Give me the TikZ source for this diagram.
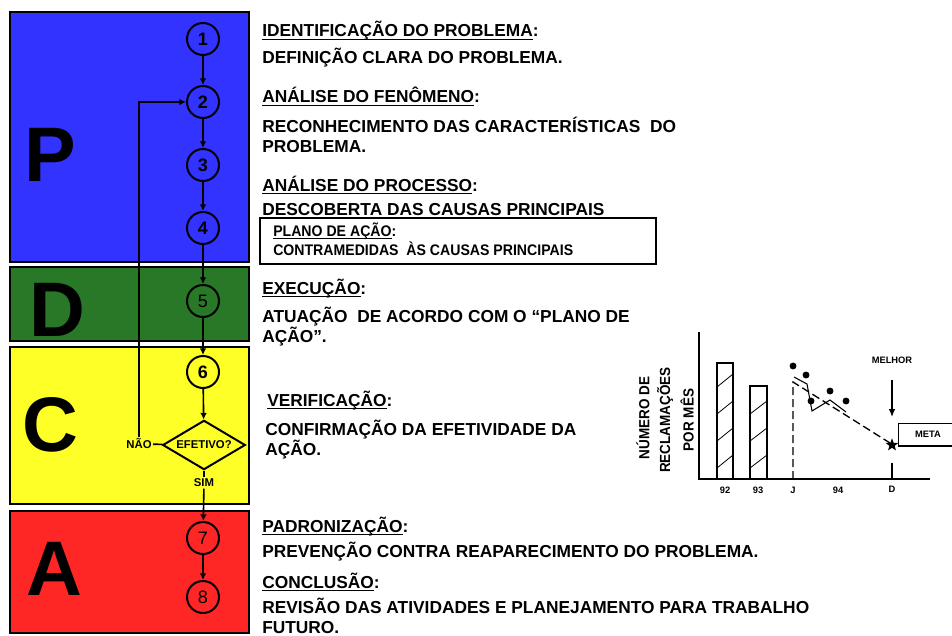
\documentclass[tikz,border=0pt]{standalone}
\usepackage{fontspec}
\setmainfont{Liberation Sans}
\newfontfamily\estreita[FakeStretch=0.92]{Liberation Sans}
\usetikzlibrary{arrows.meta,shapes.geometric}
\definecolor{azulP}{RGB}{51,51,255}
\definecolor{verdeD}{RGB}{40,120,40}
\definecolor{amareloC}{RGB}{255,255,40}
\definecolor{vermelhoA}{RGB}{255,38,38}
\newcommand\grifo[1]{\setbox0\hbox{#1}\rlap{\rule[-2.2pt]{\wd0}{0.9pt}}\box0}

\begin{document}
\begin{tikzpicture}[x=0.75pt,y=-0.75pt,
    fase/.style={draw,line width=1.5pt},
    letra/.style={font=\bfseries\fontsize{58}{58}\selectfont},
    etapa/.style={circle,draw,line width=1.5pt,minimum size=24pt,inner sep=0pt,font=\bfseries\fontsize{13.5}{14}\selectfont},
    etapafina/.style={etapa,font=\fontsize{13.5}{14}\selectfont},
    fluxo/.style={-{Latex[length=5pt,width=5pt]},line width=1.2pt},
    rotulo/.style={font=\bfseries\fontsize{8.5}{9}\selectfont,inner sep=1pt},
    texto/.style={anchor=base west,inner sep=0pt,align=left,font=\bfseries\fontsize{13}{15}\selectfont},
    textobox/.style={anchor=base west,inner sep=0pt,font=\estreita\bfseries\fontsize{11.5}{12}\selectfont},
    eixo/.style={font=\estreita\bfseries\fontsize{11}{12}\selectfont,rotate=90,inner sep=0pt},
    marca/.style={font=\bfseries\fontsize{7}{8}\selectfont,inner sep=0pt}]
\useasboundingbox (0,0) rectangle (952,635);

\draw[fase,fill=azulP] (10,12) rectangle (249,262);
\draw[fase,fill=verdeD] (10,267) rectangle (249,341);
\draw[fase,fill=amareloC] (10,347) rectangle (249,504);
\draw[fase,fill=vermelhoA] (10,511) rectangle (249,633);

\node[letra] (P) at (50,155) {P};
\node[letra] (D) at (57,310) {D};
\node[letra] (C) at (50,425) {C};
\node[letra] (A) at (54,569) {A};

\node[etapa] (c1) at (203,39) {1};
\node[etapa] (c2) at (203,102) {2};
\node[etapa] (c3) at (203,165) {3};
\node[etapa] (c4) at (203,228) {4};
\node[etapafina] (c5) at (203,301) {5};
\node[etapa] (c6) at (203,372) {6};
\node[diamond,draw,line width=1.5pt,fill=amareloC,aspect=1.7,inner sep=1pt,minimum width=62pt,minimum height=37pt,
    font=\bfseries\fontsize{8.5}{9}\selectfont] (ok) at (204,445) {EFETIVO?};
\node[rotulo,fill=amareloC] (nao) at (139,444) {NÃO};
\node[rotulo,fill=amareloC] (sim) at (204,483) {SIM};
\node[etapafina] (c7) at (203,538) {7};
\node[etapafina] (c8) at (203,597) {8};

\draw[fluxo] (c1) -- (c2);
\draw[fluxo] (c2) -- (c3);
\draw[fluxo] (c3) -- (c4);
\draw[fluxo] (c4) -- (c5);
\draw[fluxo] (c5) -- (c6);
\draw[fluxo] (c6) -- (ok);
\draw[line width=1.2pt] (ok) -- (sim);
\draw[fluxo] (sim) -- (c7);
\draw[fluxo] (c7) -- (c8);
\draw[line width=1.2pt] (ok) -- (nao);
\draw[fluxo] (nao) |- (c2);

\node[texto] (t1) at (262,37) {\grifo{IDENTIFICAÇÃO DO PROBLEMA}:};
\node[texto] (t2) at (262,64) {DEFINIÇÃO CLARA DO PROBLEMA.};
\node[texto] (t3) at (262,103) {\grifo{ANÁLISE DO FENÔMENO}:};
\node[texto] (t4) at (262,152) {RECONHECIMENTO DAS CARACTERÍSTICAS~ DO\\PROBLEMA.};
\node[texto] (t5) at (262,191) {\grifo{ANÁLISE DO PROCESSO}:};
\node[texto] (t6) at (262,215) {DESCOBERTA DAS CAUSAS PRINCIPAIS};
\draw[line width=1pt] (260,218) rectangle (656,264);
\node[textobox] (t7) at (273,236) {\grifo{PLANO DE AÇÃO}:};
\node[textobox] (t8) at (273,255) {CONTRAMEDIDAS~ ÀS CAUSAS PRINCIPAIS};
\node[texto] (t9) at (262,294) {\grifo{EXECUÇÃO}:};
\node[texto] (t10) at (262,342) {ATUAÇÃO~ DE ACORDO COM O “PLANO DE\\AÇÃO”.};
\node[texto] (t11) at (267,406) {\grifo{VERIFICAÇÃO}:};
\node[texto] (t12) at (265,455) {CONFIRMAÇÃO DA EFETIVIDADE DA\\AÇÃO.};
\node[texto] (t13) at (262,532) {\grifo{PADRONIZAÇÃO}:};
\node[texto] (t14) at (262,557) {PREVENÇÃO CONTRA REAPARECIMENTO DO PROBLEMA.};
\node[texto] (t15) at (262,588) {\grifo{CONCLUSÃO}:};
\node[texto] (t16) at (262,633) {REVISÃO DAS ATIVIDADES E PLANEJAMENTO PARA TRABALHO\\FUTURO.};

\node[eixo] (y1) at (643,418) {NÚMERO DE};
\node[eixo] (y2) at (665,420) {RECLAMAÇÕES};
\node[eixo] (y3) at (687,420) {POR MÊS};
\draw[line width=1.3pt] (699,332) -- (699,479) -- (930,479);
\draw[line width=0.8pt] (717,479) rectangle (733,363);
\draw[line width=0.8pt] (750,479) rectangle (767,386);
\begin{scope}
  \clip (717,479) rectangle (733,363);
  \foreach \k in {0,...,5} \draw[line width=0.6pt] (717,495-27*\k) -- ++(16,-13);
\end{scope}
\begin{scope}
  \clip (750,479) rectangle (767,386);
  \foreach \k in {0,...,4} \draw[line width=0.6pt] (750,495-27*\k) -- ++(17,-13);
\end{scope}
\draw[line width=1pt,dash pattern=on 6pt off 3pt] (793,479) -- (793,382) -- (890,443);
\draw[line width=0.8pt] (794,377) -- (807,384) -- (812,411) -- (830,400) -- (846,412);
\foreach \p in {(793,366),(806,375),(811,401),(830,391),(846,401)} \fill \p circle (2.6pt);
\node[star,star points=5,star point ratio=2.4,fill,inner sep=0pt,minimum size=10pt] (alvo) at (892,445) {};
\node[marca] (melhor) at (892,360) {MELHOR};
\coordinate (topo) at (892,380);
\draw[-{Latex[length=6pt,width=5pt]},line width=1pt] (topo) -- (892,417);
\draw[line width=1pt] (892,463) -- (892,479);
\node[draw,line width=1pt,marca,minimum width=44pt,minimum height=17pt] (meta) at (928,434.5) {META};
\node[marca] (l92) at (725,490) {92};
\node[marca] (l93) at (758,490) {93};
\node[marca] (lJ) at (793,490) {J};
\node[marca] (l94) at (838,490) {94};
\node[marca] (lD) at (892,489) {D};
\end{tikzpicture}
\end{document}
